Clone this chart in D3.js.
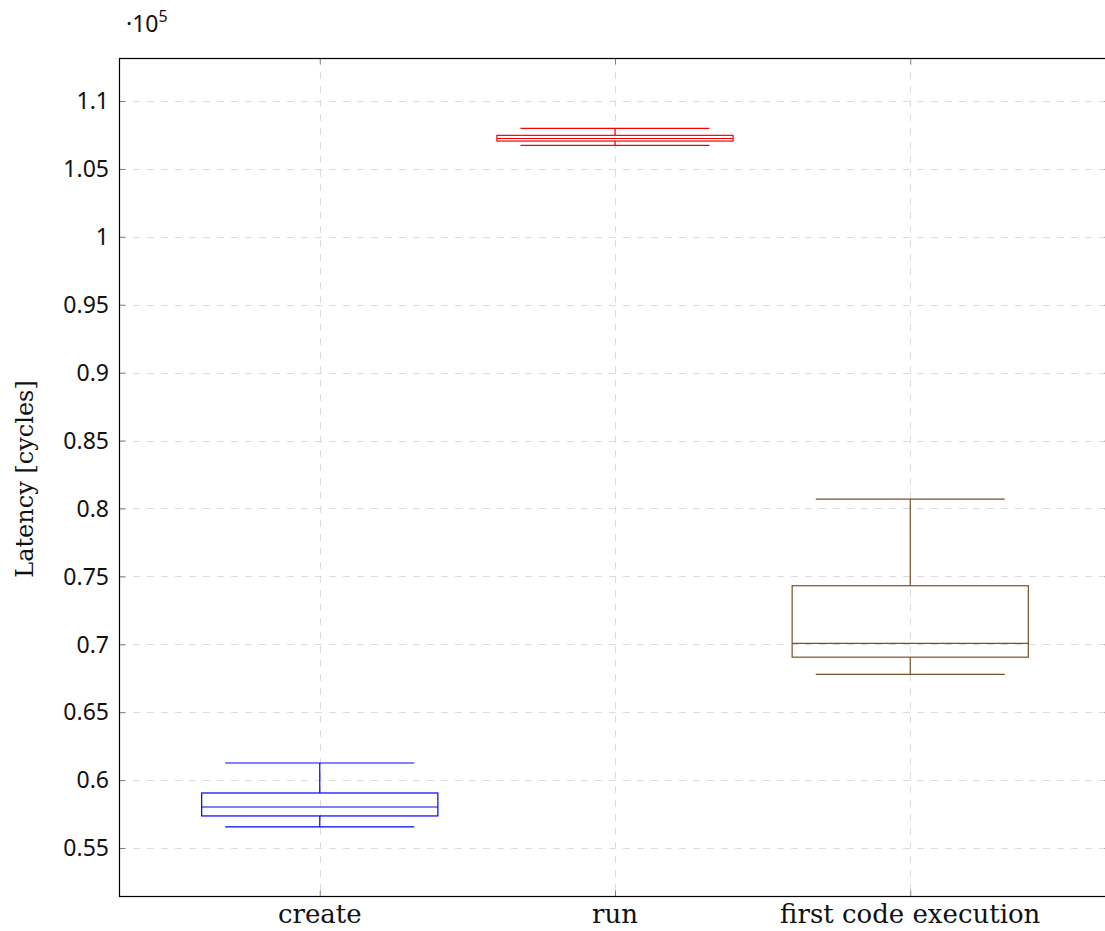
<!DOCTYPE html>
<html>
<head>
<meta charset="utf-8">
<script src="https://cdn.jsdelivr.net/npm/d3@7/dist/d3.min.js"></script>
<style>
	body { margin: 0; background: #fff; }
	svg { display: block; overflow: hidden; }
	.tick-label { font-family: "Noto Sans", sans-serif; font-size: 23px; fill: #111; }
	.cat-label { font-family: "DejaVu Serif", serif; font-size: 26px; fill: #111; }
</style>
</head>
<body>
<div id="chart"></div>
<script>
//data (in units of 10^5 cycles)
var categories = ["create", "run", "first code execution"],
	lowerWhisker = [0.5655, 1.0674, 0.6778],
	lowerQuartile = [0.5736, 1.0705, 0.6905],
	medians = [0.5802, 1.0724, 0.7006],
	upperQuartile = [0.5905, 1.0747, 0.7431],
	upperWhisker = [0.6126, 1.0799, 0.8068],
	boxColours = ["#0000ff", "#ff0000", "#7a5028"],
	yTicks = [0.55, 0.6, 0.65, 0.7, 0.75, 0.8, 0.85, 0.9, 0.95, 1, 1.05, 1.1];

//frame
var width = 1105,
	height = 931,
	plotLeft = 119,
	plotRight = 1111,
	plotTop = 58,
	plotBottom = 897;

var x = d3.scaleLinear()
	.domain([0.32, 3.68])
	.range([plotLeft, plotRight]);

var y = d3.scaleLinear()
	.domain([0.51392, 1.13166])
	.range([plotBottom, plotTop]);

var svg = d3.select("#chart")
	.append("svg")
	.attr("width", width)
	.attr("height", height);

//grid lines
svg.append("g")
	.selectAll("line")
	.data(yTicks)
	.enter()
	.append("line")
		.attr("x1", plotLeft)
		.attr("x2", plotRight)
		.attr("y1", function(d){ return Math.round(y(d)) + 0.5; })
		.attr("y2", function(d){ return Math.round(y(d)) + 0.5; })
		.attr("stroke", "#dcdcdc")
		.attr("stroke-dasharray", "7,7");

svg.append("g")
	.selectAll("line")
	.data(categories)
	.enter()
	.append("line")
		.attr("x1", function(d, i){ return Math.round(x(i + 1)) + 0.5; })
		.attr("x2", function(d, i){ return Math.round(x(i + 1)) + 0.5; })
		.attr("y1", plotTop)
		.attr("y2", plotBottom)
		.attr("stroke", "#dcdcdc")
		.attr("stroke-dasharray", "7,7");

//axes with inward ticks
function greyTicks(g) {
	g.select(".domain").remove();
	g.selectAll("line").attr("stroke", "#808080");
}

svg.append("g")
	.attr("transform", "translate(" + (plotLeft + 0.5) + ",0)")
	.call(d3.axisRight(y).tickValues(yTicks).tickSize(6).tickFormat(""))
	.call(greyTicks);

svg.append("g")
	.attr("transform", "translate(" + (plotRight - 0.5) + ",0)")
	.call(d3.axisLeft(y).tickValues(yTicks).tickSize(6).tickFormat(""))
	.call(greyTicks);

svg.append("g")
	.attr("transform", "translate(0," + (plotBottom - 0.5) + ")")
	.call(d3.axisTop(x).tickValues([1, 2, 3]).tickSize(6).tickFormat(""))
	.call(greyTicks);

svg.append("g")
	.attr("transform", "translate(0," + (plotTop + 0.5) + ")")
	.call(d3.axisBottom(x).tickValues([1, 2, 3]).tickSize(6).tickFormat(""))
	.call(greyTicks);

//frame
svg.append("rect")
	.attr("x", plotLeft + 0.5)
	.attr("y", plotTop + 0.5)
	.attr("width", plotRight - plotLeft - 1)
	.attr("height", plotBottom - plotTop - 1)
	.attr("fill", "none")
	.attr("stroke", "#000")
	.attr("stroke-width", 1.2);

//tick labels
svg.append("g")
	.selectAll("text")
	.data(yTicks)
	.enter()
	.append("text")
		.attr("class", "tick-label")
		.attr("x", plotLeft - 10)
		.attr("y", function(d){ return y(d); })
		.attr("dy", "0.36em")
		.attr("text-anchor", "end")
		.text(function(d){ return String(d); });

svg.append("g")
	.selectAll("text")
	.data(categories)
	.enter()
	.append("text")
		.attr("class", "cat-label")
		.attr("x", function(d, i){ return x(i + 1); })
		.attr("y", 923)
		.attr("text-anchor", "middle")
		.text(function(d){ return d; });

//scale factor
var mult = svg.append("text")
	.attr("class", "tick-label")
	.attr("x", 126)
	.attr("y", 32);
mult.append("tspan").text("\u00b710");
mult.append("tspan").attr("dy", -10).style("font-size", "16px").text("5");

//y axis title
svg.append("text")
	.attr("class", "cat-label")
	.attr("transform", "translate(33," + 479 + ") rotate(-90)")
	.attr("text-anchor", "middle")
	.style("font-size", "24px")
	.text("Latency [cycles]");

//boxes
var boxHalf = 0.4, whiskerHalf = 0.32;
var boxes = svg.append("g")
	.selectAll("g")
	.data(categories)
	.enter()
	.append("g")
	.attr("stroke", function(d, i){ return boxColours[i]; })
	.attr("fill", "none")
	.attr("stroke-width", 1.2);

boxes.each(function(d, i){
	var g = d3.select(this),
		p = i + 1;
	//whisker stems
	g.append("line")
		.attr("x1", x(p)).attr("x2", x(p))
		.attr("y1", y(upperQuartile[i])).attr("y2", y(upperWhisker[i]));
	g.append("line")
		.attr("x1", x(p)).attr("x2", x(p))
		.attr("y1", y(lowerQuartile[i])).attr("y2", y(lowerWhisker[i]));
	//whisker caps
	g.append("line")
		.attr("x1", x(p - whiskerHalf)).attr("x2", x(p + whiskerHalf))
		.attr("y1", y(upperWhisker[i])).attr("y2", y(upperWhisker[i]));
	g.append("line")
		.attr("x1", x(p - whiskerHalf)).attr("x2", x(p + whiskerHalf))
		.attr("y1", y(lowerWhisker[i])).attr("y2", y(lowerWhisker[i]));
	//box
	g.append("rect")
		.attr("x", x(p - boxHalf))
		.attr("width", x(p + boxHalf) - x(p - boxHalf))
		.attr("y", y(upperQuartile[i]))
		.attr("height", y(lowerQuartile[i]) - y(upperQuartile[i]));
	//median
	g.append("line")
		.attr("x1", x(p - boxHalf)).attr("x2", x(p + boxHalf))
		.attr("y1", y(medians[i])).attr("y2", y(medians[i]));
});
</script>
</body>
</html>
